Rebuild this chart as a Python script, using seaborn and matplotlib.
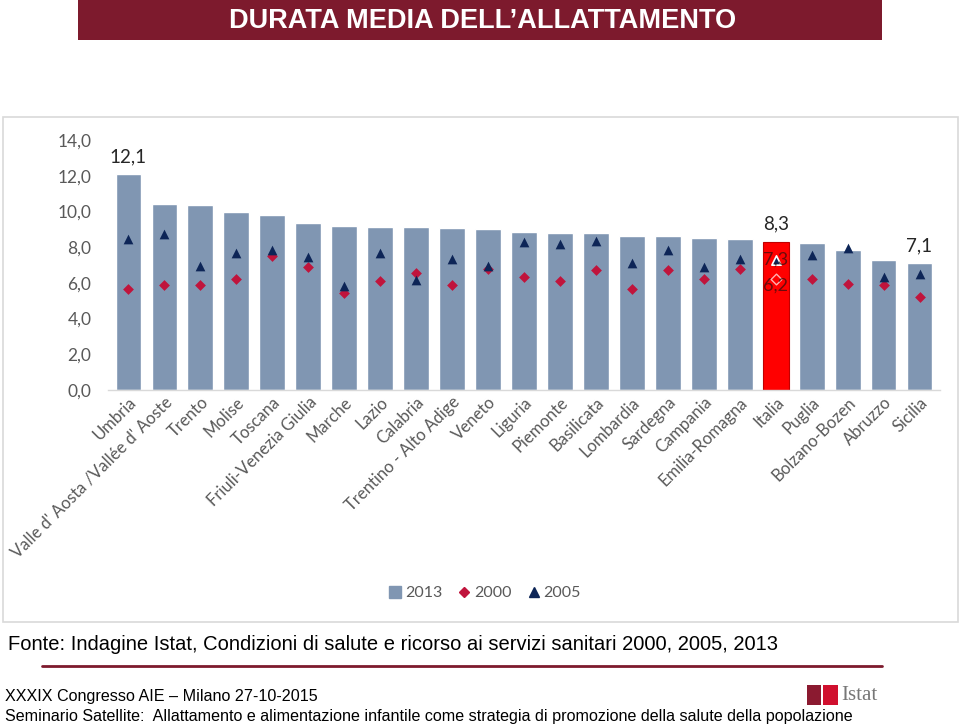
import matplotlib
matplotlib.use("Agg")
import matplotlib.pyplot as plt
from matplotlib.patches import Rectangle
from matplotlib.lines import Line2D
import seaborn as sns
import pandas as pd

regions = ["Umbria", "Valle d' Aosta /Vallée d' Aoste", "Trento", "Molise", "Toscana",
           "Friuli-Venezia Giulia", "Marche", "Lazio", "Calabria", "Trentino - Alto Adige",
           "Veneto", "Liguria", "Piemonte", "Basilicata", "Lombardia", "Sardegna",
           "Campania", "Emilia-Romagna", "Italia", "Puglia", "Bolzano-Bozen", "Abruzzo", "Sicilia"]
v2013 = [12.1, 10.4, 10.35, 9.95, 9.8, 9.35, 9.2, 9.15, 9.15, 9.05, 9.0,
         8.85, 8.8, 8.8, 8.6, 8.6, 8.5, 8.45, 8.3, 8.25, 7.85, 7.3, 7.1]
v2000 = [5.65, 5.9, 5.9, 6.2, 7.5, 6.9, 5.45, 6.1, 6.55, 5.9, 6.75,
         6.35, 6.1, 6.7, 5.65, 6.7, 6.2, 6.8, 6.2, 6.2, 5.95, 5.9, 5.2]
v2005 = [8.45, 8.75, 6.95, 7.65, 7.85, 7.45, 5.85, 7.65, 6.15, 7.35, 6.95,
         8.3, 8.15, 8.35, 7.1, 7.85, 6.9, 7.35, 7.3, 7.55, 7.95, 6.35, 6.5]
labelled = {"Umbria": "12,1", "Italia": "8,3", "Sicilia": "7,1"}
italia_labels = {"2005": "7,3", "2000": "6,2"}

df = pd.DataFrame({"regione": regions, "2013": v2013, "2000": v2000, "2005": v2005})

BAR = "#8096B2"
RED_BAR = "#FF0000"
DIAM = "#C0143C"
TRI = "#0D2557"
MAROON = "#7D1A2D"
GREY = "#595959"

sns.set_theme(style="white")
plt.rcParams["font.family"] = ["Lato", "DejaVu Sans"]

W, H = 960, 726
fig = plt.figure(figsize=(W / 100, H / 100), dpi=100)

def fx(x):
    return x / W

def fy(y):
    return 1 - y / H

# panel frame
fig.patches.append(Rectangle((fx(2.5), fy(622)), fx(955), (622 - 117) / H, transform=fig.transFigure,
                             facecolor="white", edgecolor="#D9D9D9", linewidth=1.2, zorder=-10))
# title bar
fig.patches.append(Rectangle((fx(78), fy(40)), fx(804), 40 / H, transform=fig.transFigure,
                             facecolor=MAROON, edgecolor="none", zorder=-10))
fig.text(fx(483), fy(21), "DURATA MEDIA DELL\u2019ALLATTAMENTO", color="white", ha="center", va="center",
         fontsize=19.5, fontweight="bold", family=["Liberation Sans", "DejaVu Sans"])

ax = fig.add_axes([fx(108), fy(390), fx(940 - 108), (390 - 140) / H])
ax.set_facecolor("none")
ax.set_zorder(2)

palette = {r: (RED_BAR if r == "Italia" else BAR) for r in regions}
sns.barplot(data=df, x="regione", y="2013", hue="regione", palette=palette, legend=False,
            width=0.72, saturation=1, ax=ax, zorder=2)
for patch, r in zip(ax.patches, regions):
    if r == "Italia":
        patch.set_edgecolor("#C00000")
        patch.set_linewidth(0.8)

ita = df[df["regione"] == "Italia"]
sns.stripplot(data=df, x="regione", y="2000", order=regions, jitter=False, marker="D", size=5.5,
              color=DIAM, linewidth=0, ax=ax, zorder=3)
sns.stripplot(data=df, x="regione", y="2005", order=regions, jitter=False, marker="^", size=7,
              color=TRI, linewidth=0, ax=ax, zorder=4)
# Italia markers drawn with light edge
ix = regions.index("Italia")
ax.scatter([ix], ita["2000"], marker="D", s=30, facecolor="#FF0000", edgecolor="#FFB0B0", linewidth=1, zorder=5)
ax.scatter([ix], ita["2005"], marker="^", s=45, facecolor=TRI, edgecolor="white", linewidth=1.2, zorder=5)
ax.text(ix, float(ita["2005"].iloc[0]), italia_labels["2005"], ha="center", va="center", fontsize=13,
        color="#3a1010", alpha=0.75, zorder=6)
ax.text(ix, float(ita["2000"].iloc[0]) - 0.35, italia_labels["2000"], ha="center", va="center", fontsize=13,
        color="#3a1010", alpha=0.75, zorder=6)

for r, t in labelled.items():
    i = regions.index(r)
    ax.text(i, v2013[i] + 0.5, t, ha="center", va="bottom", fontsize=13.5, color="#262626", zorder=6)

ax.set_xlim(-0.57, len(regions) - 0.43)
ax.set_ylim(0, 14)
ax.set_yticks([0, 2, 4, 6, 8, 10, 12, 14])
ax.set_yticklabels([f"{v:.1f}".replace(".", ",") for v in [0, 2, 4, 6, 8, 10, 12, 14]])
ax.tick_params(axis="y", labelsize=12.5, labelcolor=GREY, length=0, pad=12)
ax.tick_params(axis="x", labelsize=12, labelcolor=GREY, length=0, pad=3)
ax.set_xticks(range(len(regions)))
ax.set_xticklabels(regions, rotation=45, ha="right", rotation_mode="anchor")
ax.set_xlabel("")
ax.set_ylabel("")
for s in ["top", "right", "left"]:
    ax.spines[s].set_visible(False)
ax.spines["bottom"].set_color("#D9D9D9")
ax.spines["bottom"].set_linewidth(1)

handles = [
    Line2D([], [], marker="s", linestyle="none", markersize=8, markerfacecolor=BAR, markeredgecolor=BAR),
    Line2D([], [], marker="D", linestyle="none", markersize=5.5, markerfacecolor=DIAM, markeredgecolor=DIAM),
    Line2D([], [], marker="^", linestyle="none", markersize=7, markerfacecolor=TRI, markeredgecolor=TRI),
]
fig.legend(handles, ["2013", "2000", "2005"], loc="center", bbox_to_anchor=(fx(484), fy(593)), ncol=3,
           frameon=False, fontsize=11.5, labelcolor=GREY, handletextpad=0.1, columnspacing=0.9,
           handlelength=1.0)

# source and footer
fig.text(fx(8), fy(645), "Fonte: Indagine Istat, Condizioni di salute e ricorso ai servizi sanitari 2000, 2005, 2013",
         ha="left", va="center", fontsize=14.5, color="black", family=["Liberation Sans", "DejaVu Sans"])
fig.add_artist(Line2D([fx(42), fx(882)], [fy(666), fy(666)], transform=fig.transFigure, color=MAROON, linewidth=2))
fig.text(fx(5), fy(696), "XXXIX Congresso AIE \u2013 Milano 27-10-2015", ha="left", va="center", fontsize=11.6,
         color="black", family=["Liberation Sans", "DejaVu Sans"])
fig.text(fx(5), fy(716), "Seminario Satellite:  Allattamento e alimentazione infantile come strategia di promozione della salute della popolazione",
         ha="left", va="center", fontsize=11.6, color="black", family=["Liberation Sans", "DejaVu Sans"])
# logo
fig.patches.append(Rectangle((fx(807), fy(705)), fx(14), 20 / H, transform=fig.transFigure,
                             facecolor="#8B1A30", edgecolor="none"))
fig.patches.append(Rectangle((fx(823), fy(705)), fx(15), 20 / H, transform=fig.transFigure,
                             facecolor="#D0102E", edgecolor="none"))
fig.text(fx(841), fy(695), "Istat", ha="left", va="center", fontsize=15, color="#777777",
         family=["Liberation Serif", "DejaVu Serif"])

fig.savefig("out.png", dpi=100)
